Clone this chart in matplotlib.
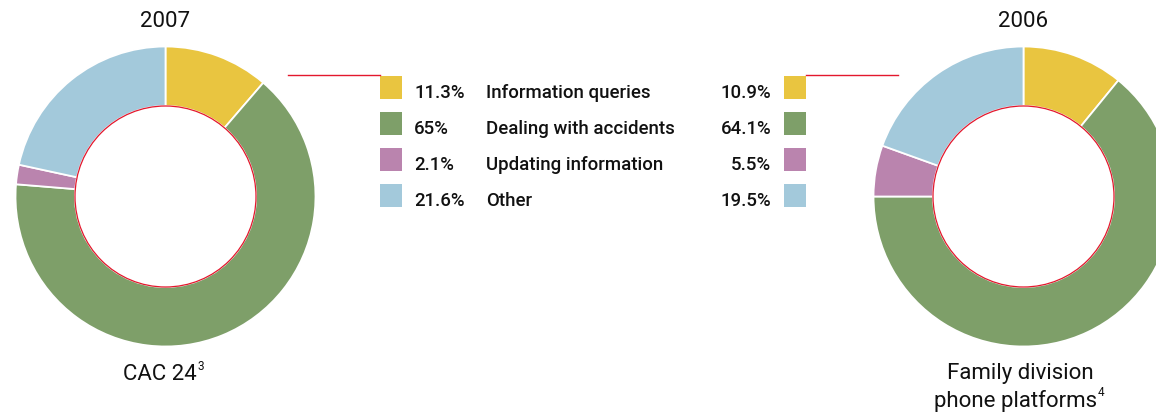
import matplotlib.pyplot as plt
from matplotlib.patches import Circle

plt.rcParams['font.family'] = ['Roboto', 'DejaVu Sans']

# data
categories = ['Information queries', 'Dealing with accidents', 'Updating information', 'Other']
values_2007 = [11.3, 65, 2.1, 21.6]
values_2006 = [10.9, 64.1, 5.5, 19.5]
labels_2007 = ['11.3%', '65%', '2.1%', '21.6%']
labels_2006 = ['10.9%', '64.1%', '5.5%', '19.5%']
colors = ['#E9C540', '#7E9F69', '#BA84AE', '#A3C9DB']
red = '#E3182D'

W, H = 1156, 417
fig = plt.figure(figsize=(W / 100, H / 100), dpi=100)
ax = fig.add_axes([0, 0, 1, 1])

def Y(y):
    # pixel row (from top) -> data y
    return H - y

def donut(vals, cx, cy):
    ax.pie(vals, colors=colors, startangle=90, counterclock=False,
           radius=150, center=(cx, Y(cy)),
           wedgeprops=dict(width=59.5, edgecolor='white', linewidth=1.3))
    ax.add_patch(Circle((cx, Y(cy)), 90.5, fill=False, edgecolor=red, lw=0.9, zorder=5))

donut(values_2007, 165.5, 196.5)
donut(values_2006, 1023.5, 196.5)

# legend block
row_y = [87, 123, 159, 195]
fs = 13.4
for i, yy in enumerate(row_y):
    ax.add_patch(plt.Rectangle((380, Y(yy + 11.5)), 22, 23, color=colors[i], lw=0))
    ax.add_patch(plt.Rectangle((784, Y(yy + 11.5)), 22, 23, color=colors[i], lw=0))
    ax.text(414, Y(yy + 6), labels_2007[i], fontsize=fs, fontweight='medium',
            ha='left', va='center', color='#111111')
    ax.text(486, Y(yy + 6), categories[i], fontsize=fs, fontweight='medium',
            ha='left', va='center', color='#111111')
    ax.text(771, Y(yy + 6), labels_2006[i], fontsize=fs, fontweight='medium',
            ha='right', va='center', color='#111111')

# red connector lines
ax.plot([288, 380], [Y(75), Y(75)], color=red, lw=1)
ax.plot([806, 898], [Y(75), Y(75)], color=red, lw=1)

# titles
ax.text(165.5, Y(21), '2007', fontsize=16, ha='center', va='center', color='#111111')
ax.text(1023.5, Y(21), '2006', fontsize=16, ha='center', va='center', color='#111111')

# captions
ax.text(197, Y(375), 'CAC 24', fontsize=16, ha='right', va='center', color='#111111')
ax.text(198, Y(366), '3', fontsize=8.5, ha='left', va='center', color='#111111')
ax.text(1020, Y(374), 'Family division', fontsize=16, ha='center', va='center', color='#111111')
ax.text(1097, Y(401), 'phone platforms', fontsize=16, ha='right', va='center', color='#111111')
ax.text(1098, Y(392), '4', fontsize=8.5, ha='left', va='center', color='#111111')

ax.set_xlim(0, W)
ax.set_ylim(0, H)
ax.set_aspect('auto')
ax.axis('off')

fig.savefig('out.png', dpi=100)
